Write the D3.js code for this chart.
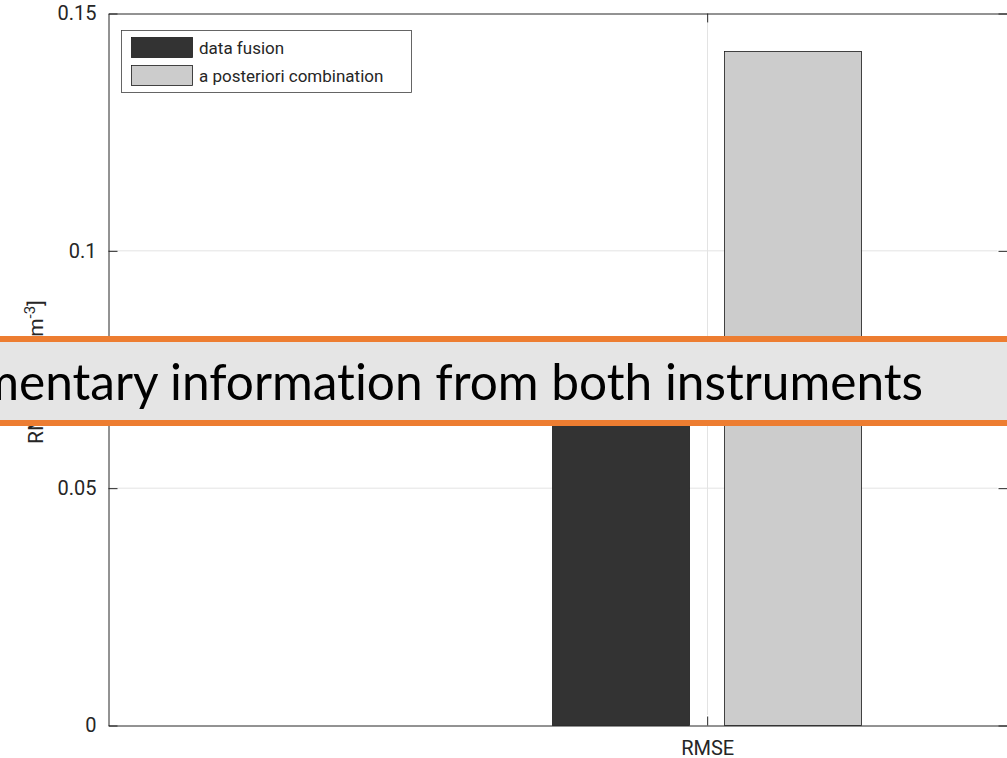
<!DOCTYPE html>
<html>
<head>
<meta charset="utf-8">
<script src="https://cdn.jsdelivr.net/npm/d3@7"></script>
<style>
  html, body { margin: 0; padding: 0; background: #fff; overflow: hidden; }
  svg { display: block; font-family: Roboto, "Liberation Sans", sans-serif; }
</style>
</head>
<body>
<svg id="chart" width="1007" height="758"></svg>
<script>
// Chart data
const categories = ["RMSE"];
const seriesNames = ["data fusion", "a posteriori combination"];
const seriesValues = [[0.073], [0.142]];
const seriesColors = ["#333333", "#cccccc"];
const yTicks = [0, 0.05, 0.1, 0.15];
const yTickLabels = ["0", "0.05", "0.1", "0.15"];
const bannerText = "Complementary information from both instruments";

const svg = d3.select("#chart");
const W = 1007, H = 758;
const plotLeft = 108, plotRight = 1006, plotTop = 13, plotBottom = 725;
const rightAxisX = 1007.5;

// Category positions: category 1 sits two-thirds across the x limits [-1, 2]
const x = d3.scaleLinear().domain([-1, 2]).range([plotLeft, plotRight]);
const y = d3.scaleLinear().domain([0, 0.15]).range([plotBottom, plotTop]);
const axisColor = "#262626";

const g = svg.append("g");

// Grid lines
g.append("g").selectAll("line").data(yTicks.slice(1, -1)).join("line")
  .attr("x1", plotLeft).attr("x2", rightAxisX - 10)
  .attr("y1", d => y(d) + 0.5).attr("y2", d => y(d) + 0.5)
  .attr("stroke", "#e3e3e3").attr("stroke-width", 1);
g.append("g").selectAll("line").data(categories).join("line")
  .attr("x1", (d, i) => Math.round(x(i + 1)) + 0.5).attr("x2", (d, i) => Math.round(x(i + 1)) + 0.5)
  .attr("y1", plotTop + 10).attr("y2", plotBottom - 10)
  .attr("stroke", "#e3e3e3").attr("stroke-width", 1);

// Bars
categories.forEach((cat, ci) => {
  const xc = x(ci + 1);
  const inner = d3.scaleBand().domain(seriesNames).range([xc - 154.5, xc + 154.5]).paddingInner(0.2035).paddingOuter(0);
  seriesNames.forEach((s, si) => {
    const v = seriesValues[si][ci];
    g.append("rect")
      .attr("x", Math.round(inner(s)) + 0.5)
      .attr("y", Math.round(y(v)) + 0.5)
      .attr("width", Math.round(inner.bandwidth()))
      .attr("height", Math.round(y(0) - y(v)))
      .attr("fill", seriesColors[si])
      .attr("stroke", "#1a1a1a").attr("stroke-width", 0.8);
  });
});

// Axes
const yAxisL = d3.axisLeft(y).tickValues(yTicks).tickFormat((d, i) => yTickLabels[i]).tickSizeInner(-9).tickSizeOuter(0).tickPadding(12);
const gy = g.append("g").attr("transform", `translate(${plotLeft + 0.5},0.5)`).call(yAxisL);
gy.select(".domain").attr("stroke", axisColor);
gy.selectAll(".tick line").attr("stroke", axisColor);
gy.selectAll(".tick text").attr("fill", axisColor).style("font-size", "20px").style("font-family", "Roboto");

const yAxisR = d3.axisRight(y).tickValues(yTicks).tickFormat("").tickSizeInner(-9).tickSizeOuter(0);
const gyr = g.append("g").attr("transform", `translate(${rightAxisX},0.5)`).call(yAxisR);
gyr.select(".domain").attr("stroke", axisColor);
gyr.selectAll(".tick line").attr("stroke", axisColor);

const xAxisB = d3.axisBottom(x).tickValues(categories.map((c, i) => i + 1)).tickFormat((d, i) => categories[i]).tickSizeInner(-9).tickSizeOuter(0).tickPadding(15);
const gxb = g.append("g").attr("transform", `translate(0.5,${plotBottom + 0.5})`).call(xAxisB);
gxb.select(".domain").attr("stroke", axisColor);
gxb.selectAll(".tick line").attr("stroke", axisColor);
gxb.selectAll(".tick text").attr("fill", axisColor).style("font-size", "20px").style("font-family", "Roboto");

const xAxisT = d3.axisTop(x).tickValues(categories.map((c, i) => i + 1)).tickFormat("").tickSizeInner(-9).tickSizeOuter(0);
const gxt = g.append("g").attr("transform", `translate(0.5,${plotTop + 0.5})`).call(xAxisT);
gxt.select(".domain").attr("stroke", axisColor);
gxt.selectAll(".tick line").attr("stroke", axisColor);

// Y axis label
const yl = g.append("text")
  .attr("transform", "translate(43,444) rotate(-90)")
  .attr("fill", axisColor).style("font-size", "21px").style("font-family", "Roboto");
yl.append("tspan").text("RMSE [mol m");
yl.append("tspan").attr("dy", -8).style("font-size", "15px").text("-3");
yl.append("tspan").attr("dy", 8).text("]");

// Legend
const lg = g.append("g");
lg.append("rect").attr("x", 121.5).attr("y", 30.5).attr("width", 290).attr("height", 62)
  .attr("fill", "#fff").attr("stroke", "#404040").attr("stroke-width", 0.8);
seriesNames.forEach((s, i) => {
  lg.append("rect").attr("x", 131.5).attr("y", 37.5 + i * 28).attr("width", 61).attr("height", 20)
    .attr("fill", seriesColors[i]).attr("stroke", "#1a1a1a").attr("stroke-width", 0.8);
  lg.append("text").attr("x", 199).attr("y", 54 + i * 28).text(s)
    .attr("fill", axisColor).style("font-size", "17px").style("font-family", "Roboto");
});

// Banner overlay
const banner = svg.append("g");
banner.append("rect").attr("x", -10).attr("y", 339).attr("width", W + 20).attr("height", 84)
  .attr("fill", "#e5e5e5").attr("stroke", "#ed7d31").attr("stroke-width", 6);
banner.append("text").attr("x", 923).attr("y", 400).attr("text-anchor", "end")
  .style("font-family", "Lato, 'Open Sans', sans-serif").style("font-size", "49.6px")
  .style("font-variant-ligatures", "none").attr("fill", "#000")
  .text(bannerText);
</script>
</body>
</html>
